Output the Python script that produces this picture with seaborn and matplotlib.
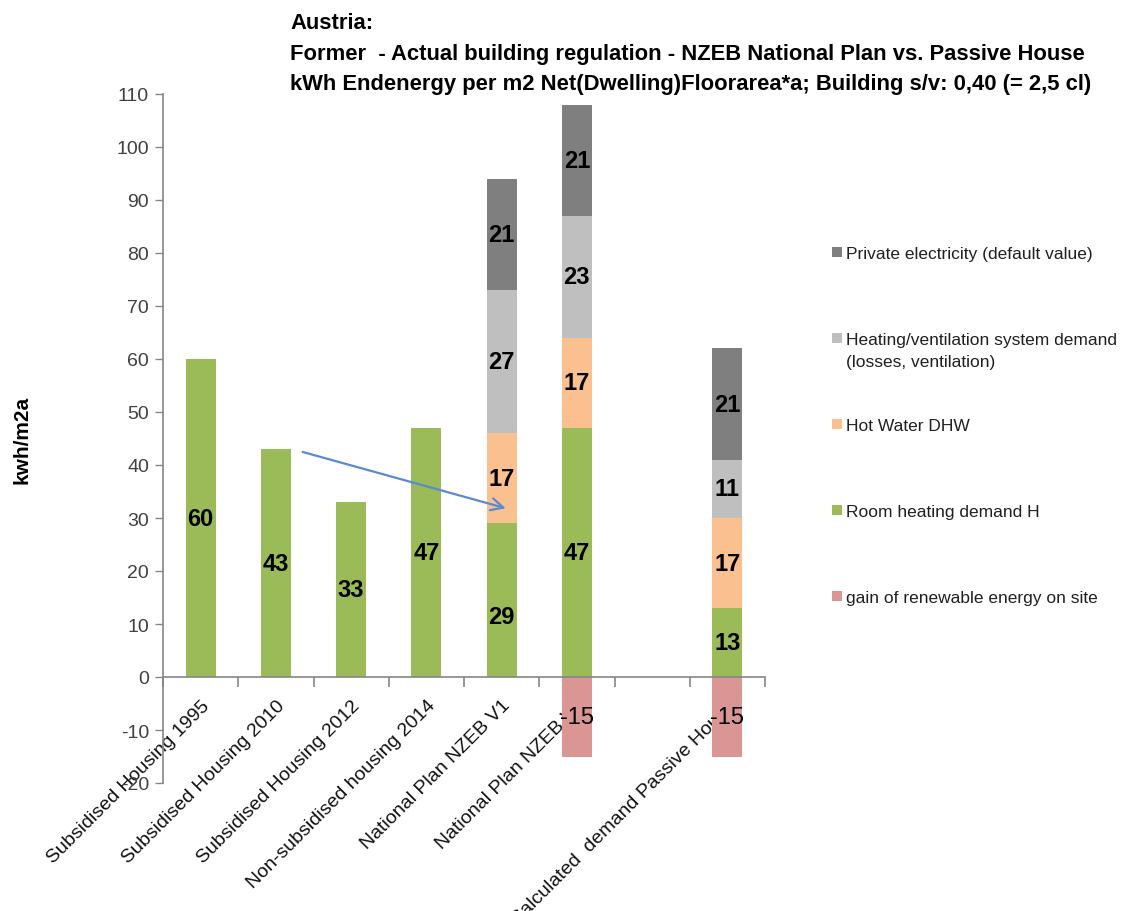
import numpy as np
import pandas as pd
import matplotlib
matplotlib.use("Agg")
import matplotlib.pyplot as plt
from matplotlib.patches import Rectangle
import seaborn as sns

# ---- data -------------------------------------------------------------
categories = [
    "Subsidised Housing 1995",
    "Subsidised Housing 2010",
    "Subsidised Housing 2012",
    "Non-subsidised housing 2014",
    "National Plan NZEB V1",
    "National Plan NZEB V2",
    " ",
    "Calculated  demand Passive House",
]
room_heating = [60, 43, 33, 47, 29, 47, 0, 13]
hot_water = [0, 0, 0, 0, 17, 17, 0, 17]
system_demand = [0, 0, 0, 0, 27, 23, 0, 11]
private_electricity = [0, 0, 0, 0, 21, 21, 0, 21]
renewable_gain = [0, 0, 0, 0, 0, -15, 0, -15]

series_keys = ["elec", "system", "dhw", "room", "gain"]
series_names = [
    "Private electricity (default value)",
    "Heating/ventilation system demand\n(losses, ventilation)",
    "Hot Water DHW",
    "Room heating demand H",
    "gain of renewable energy on site",
]
colors = {
    "room": "#9bbb59",
    "dhw": "#fac090",
    "system": "#bfbfbf",
    "elec": "#7f7f7f",
    "gain": "#d99694",
}

title_lines = [
    "Austria:",
    "Former  - Actual building regulation - NZEB National Plan vs. Passive House",
    "kWh Endenergy per m2 Net(Dwelling)Floorarea*a; Building s/v: 0,40 (= 2,5 cl)",
]
y_label = "kwh/m2a"
y_ticks = list(range(-20, 111, 10))

# ---- style ------------------------------------------------------------
sns.set_theme(style="white")
plt.rcParams["font.family"] = ["Liberation Sans", "DejaVu Sans"]

df = pd.DataFrame({
    "category": categories,
    "room": room_heating,
    "dhw": hot_water,
    "system": system_demand,
    "elec": private_electricity,
    "gain": renewable_gain,
})
df["c_room"] = df["room"]
df["c_dhw"] = df["c_room"] + df["dhw"]
df["c_system"] = df["c_dhw"] + df["system"]
df["c_elec"] = df["c_system"] + df["elec"]

W, H = 1121, 912
fig = plt.figure(figsize=(W / 100, H / 100), dpi=100)
ax = fig.add_axes([163 / W, 1 - 784 / H, (765 - 163) / W, (784 - 95) / H])

# stacked bars: cumulative totals drawn from the top layer down
for col, key in [("c_elec", "elec"), ("c_system", "system"), ("c_dhw", "dhw"), ("c_room", "room")]:
    sns.barplot(data=df, x="category", y=col, order=categories, color=colors[key],
                width=0.4, errorbar=None, linewidth=0, saturation=1, ax=ax)
sns.barplot(data=df, x="category", y="gain", order=categories, color=colors["gain"],
            width=0.4, errorbar=None, linewidth=0, saturation=1, ax=ax)

# segment value labels
label_font = dict(fontsize=17, color="black", ha="center", va="center")
label_shift = {(4, "room"): -3.0}
for i in range(len(categories)):
    base = 0.0
    for key in ["room", "dhw", "system", "elec"]:
        v = df.loc[i, key]
        if v > 0:
            yc = base + v / 2 + label_shift.get((i, key), 0.0)
            ax.text(i, yc, f"{v:g}", fontweight="bold", **label_font)
        base += v
    g = df.loc[i, "gain"]
    if g < 0:
        ax.text(i, g / 2, f"{g:g}", zorder=5, fontweight="normal", **label_font)

# arrow from the 2010 level to the NZEB V1 heating demand
ax.annotate("", xy=(4.09, 31.7), xytext=(1.32, 42.6),
            arrowprops=dict(arrowstyle="->", color="#5b8ad0", lw=1.6,
                            mutation_scale=22))

# axes styling (spine moved first: moving it resets the tick objects)
ax.spines["bottom"].set_position(("data", 0))
for s in ["top", "right"]:
    ax.spines[s].set_visible(False)
for s in ["left", "bottom"]:
    ax.spines[s].set_color("#868686")
    ax.spines[s].set_linewidth(1.2)

ax.set_ylim(-20, 110)
ax.set_xlim(-0.5, len(categories) - 0.5)
ax.set_yticks(y_ticks)
ax.set_yticklabels([str(t) for t in y_ticks], fontsize=14, color="#404040")
ax.tick_params(axis="y", direction="out", length=6, width=1, color="#868686",
               left=True, pad=4)
ax.set_xticks(range(len(categories)))
ax.set_xticklabels(categories, rotation=45, ha="right", rotation_mode="anchor",
                   fontsize=14, color="#111111")
ax.tick_params(axis="x", which="major", length=0, pad=14)
ax.set_xticks(np.arange(-0.5, len(categories), 1.0), minor=True)
ax.tick_params(axis="x", which="minor", direction="out", length=7, width=1.2,
               color="#868686", bottom=True)
ax.set_xlabel("")
ax.set_ylabel(y_label, fontsize=15, fontweight="bold", color="black")
ax.yaxis.set_label_coords(-0.218, 0.5)

# legend: entries at an even pitch, markers level with the first text line
leg_x, leg_y0, leg_pitch, box = 832, 253, 86, 10
for j, (key, name) in enumerate(zip(series_keys, series_names)):
    yc = leg_y0 + j * leg_pitch
    fig.patches.append(Rectangle((leg_x / W, 1 - (yc + box / 2) / H), box / W, box / H,
                                 transform=fig.transFigure, facecolor=colors[key],
                                 edgecolor="none"))
    first, *rest = name.split("\n")
    fig.text((leg_x + box + 4) / W, 1 - yc / H, first, ha="left", va="center_baseline",
             fontsize=12.5, color="#202020")
    for k, line in enumerate(rest, start=1):
        fig.text((leg_x + box + 4) / W, 1 - (yc + 22 * k) / H, line, ha="left",
                 va="center_baseline", fontsize=12.5, color="#202020")

# title block
for line, base in zip(title_lines, [29, 60, 90]):
    fig.text(290 / W, 1 - base / H, line, ha="left", va="baseline",
             fontsize=15.85, fontweight="bold", color="black")

fig.savefig("out.png", dpi=100)
